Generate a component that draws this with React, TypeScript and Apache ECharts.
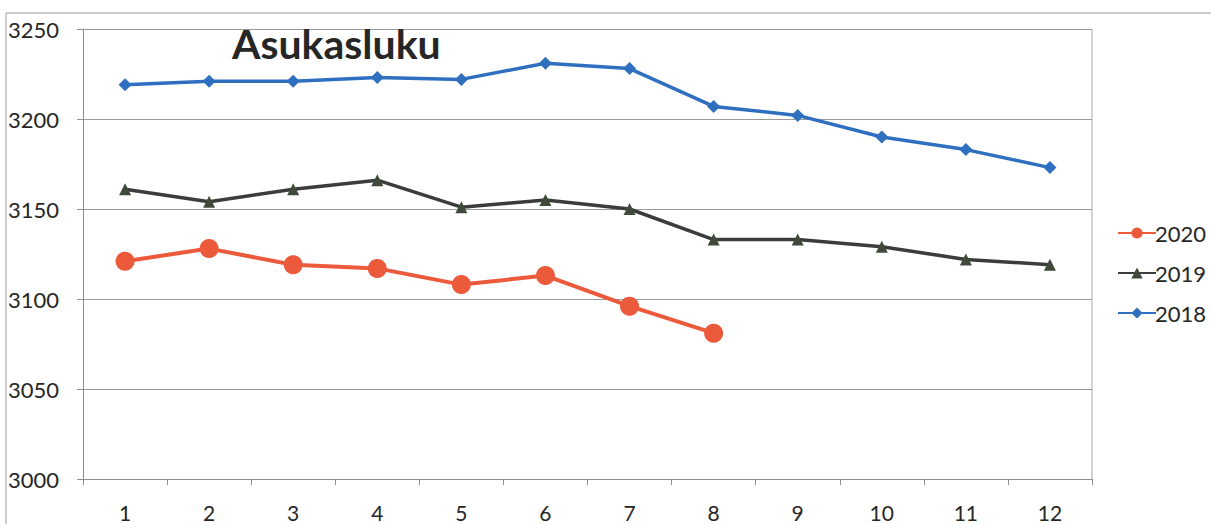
import React, { useEffect, useRef } from "react";
import * as echarts from "echarts";

const categories = ["1", "2", "3", "4", "5", "6", "7", "8", "9", "10", "11", "12"];
const series2018 = [3219, 3221, 3221, 3223, 3222, 3231, 3228, 3207, 3202, 3190, 3183, 3173];
const series2019 = [3161, 3154, 3161, 3166, 3151, 3155, 3150, 3133, 3133, 3129, 3122, 3119];
const series2020 = [3121, 3128, 3119, 3117, 3108, 3113, 3096, 3081];
const legendOrder = ["2020", "2019", "2018"];
const yMin = 3000;
const yMax = 3250;
const yInterval = 50;
const titleText = "Asukasluku";

export default function App() {
  const ref = useRef<HTMLDivElement>(null);
  useEffect(() => {
    document.body.style.margin = "0";
    const chart = echarts.init(ref.current!, null, { renderer: "svg" });
    const font = "Lato, 'Open Sans', sans-serif";
    chart.setOption({
      animation: false,
      backgroundColor: "#ffffff",
      textStyle: { fontFamily: font },
      grid: { left: 83, top: 29, right: 119, bottom: 45, containLabel: false },
      graphic: [
        {
          type: "line",
          shape: { x1: 6, y1: 13, x2: 1211, y2: 13 },
          style: { stroke: "#9a9a9a", lineWidth: 1 },
          silent: true,
        },
        {
          type: "line",
          shape: { x1: 6, y1: 13, x2: 6, y2: 524 },
          style: { stroke: "#9a9a9a", lineWidth: 1 },
          silent: true,
        },
        {
          type: "line",
          shape: { x1: 1092, y1: 29, x2: 1092, y2: 479 },
          style: { stroke: "#a8a8a8", lineWidth: 1 },
          silent: true,
        },
        {
          type: "text",
          left: 232,
          top: 23,
          style: {
            text: titleText,
            font: "bold 41px " + font,
            fill: "#262626",
          },
          z: 10,
        },
      ],
      legend: {
        data: legendOrder,
        orient: "vertical",
        left: 1112,
        top: 217,
        itemWidth: 38,
        itemHeight: 14,
        itemGap: 18,
        textStyle: { fontSize: 22, color: "#262626", fontFamily: font, padding: [0, 0, 0, -6] },
      },
      xAxis: {
        type: "category",
        data: categories,
        boundaryGap: true,
        axisLine: { show: true, lineStyle: { color: "#8c8c8c", width: 1 } },
        axisTick: { show: true, length: 6, lineStyle: { color: "#8c8c8c" } },
        axisLabel: { fontSize: 21, color: "#262626", margin: 23, fontFamily: font },
        splitLine: { show: false },
      },
      yAxis: {
        type: "value",
        min: yMin,
        max: yMax,
        interval: yInterval,
        axisLine: { show: true, lineStyle: { color: "#8c8c8c", width: 1 } },
        axisTick: { show: true, length: 6, lineStyle: { color: "#8c8c8c" } },
        axisLabel: {
          fontSize: 22,
          color: "#262626",
          margin: 24,
          fontFamily: font,
          formatter: (v: number) => String(v),
        },
        splitLine: { show: true, lineStyle: { color: "#9a9a9a", width: 1 } },
      },
      series: [
        {
          name: "2018",
          type: "line",
          data: series2018,
          symbol: "diamond",
          symbolSize: 13,
          lineStyle: { color: "#2f6fc0", width: 3.5 },
          itemStyle: { color: "#2f6fc0" },
        },
        {
          name: "2019",
          type: "line",
          data: series2019,
          symbol: "triangle",
          symbolSize: 12,
          lineStyle: { color: "#3a3e3a", width: 3.5 },
          itemStyle: { color: "#3f4a3a" },
        },
        {
          name: "2020",
          type: "line",
          data: series2020,
          symbol: "circle",
          symbolSize: 19,
          lineStyle: { color: "#ec5a3c", width: 4 },
          itemStyle: { color: "#ec5a3c" },
        },
      ],
    });
    return () => chart.dispose();
  }, []);
  return <div ref={ref} style={{ width: 1211, height: 524 }} />;
}
